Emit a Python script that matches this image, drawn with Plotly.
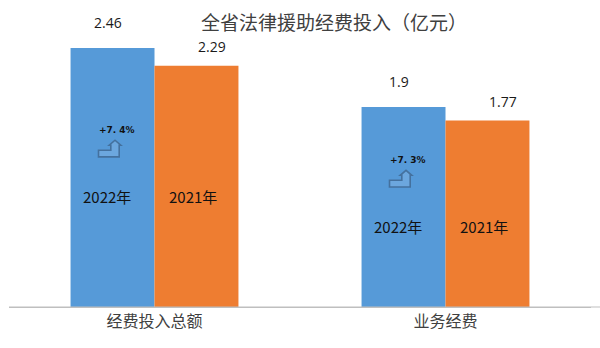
import plotly.graph_objects as go

# ---- data ----
categories = ["经费投入总额", "业务经费"]
values_2022 = [2.46, 1.9]
values_2021 = [2.29, 1.77]
series_names = ["2022年", "2021年"]
title_text = "全省法律援助经费投入（亿元）"

# ---- styles ----
blue = "#569ad8"
orange = "#ee7d31"
inner_label_frac = [0.425, 0.40]
FONT_CJK = "Noto Sans CJK SC"

fig = go.Figure()
fig.add_trace(go.Bar(x=categories, y=values_2022, name=series_names[0],
                     marker=dict(color=blue, line=dict(width=0))))
fig.add_trace(go.Bar(x=categories, y=values_2021, name=series_names[1],
                     marker=dict(color=orange, line=dict(width=0))))

ann = []
shapes = []
for i, cat in enumerate(categories):
    v22, v21 = values_2022[i], values_2021[i]
    # value labels
    ann.append(dict(x=i, y=v22, xref="x", yref="y", text=f"{v22:g}", showarrow=False,
                    xshift=-47, yshift=25, font=dict(family="Open Sans", size=14, color="#1a1a1a")))
    ann.append(dict(x=i, y=v21, xref="x", yref="y", text=f"{v21:g}", showarrow=False,
                    xshift=57, yshift=19, font=dict(family="Open Sans", size=14, color="#1a1a1a")))
    # inner series labels
    ly = v22 * inner_label_frac[i]
    ann.append(dict(x=i, y=ly, xref="x", yref="y", text=series_names[0], showarrow=False,
                    xshift=-48, font=dict(family=FONT_CJK, size=15, color="#111111")))
    ann.append(dict(x=i, y=ly, xref="x", yref="y", text=series_names[1], showarrow=False,
                    xshift=38, font=dict(family=FONT_CJK, size=15, color="#111111")))
    # growth percentage
    pct = (v22 - v21) / v21 * 100
    pct_txt = f"+{pct:.1f}%".replace(".", ". ")
    ann.append(dict(x=i, y=ly, xref="x", yref="y", text=f"<b>{pct_txt}</b>", showarrow=False,
                    xshift=-38, yshift=67, font=dict(family="DejaVu Sans", size=9, color="#111111")))
    # bent arrow (pixel path relative to label anchor)
    pts = [(0, 0), (20.7, 0), (20.7, 11.7), (22.3, 11.7), (16.5, 16.7), (10.7, 11.7),
           (12.3, 11.7), (12.3, 6.7), (0, 6.7)]
    ox, oy = -45 - 11, 40
    path = "M " + " L ".join(f"{px + ox:.1f},{py + oy:.1f}" for px, py in pts) + " Z"
    shapes.append(dict(type="path", xref="x", yref="y", xsizemode="pixel", ysizemode="pixel",
                       xanchor=i, yanchor=ly, path=path,
                       line=dict(color="#44719e", width=1.6), fillcolor="#6ca7de"))

ann.append(dict(x=(334 - 9) / 582, y=(307 - 21) / 307, xref="paper", yref="paper",
                text=title_text, showarrow=False, xanchor="center", yanchor="middle",
                font=dict(family=FONT_CJK, size=19, color="#404040")))

fig.update_layout(
    width=600, height=348,
    margin=dict(l=9, r=9, t=0, b=41),
    paper_bgcolor="white", plot_bgcolor="white",
    barmode="group", bargap=0.423, bargroupgap=0,
    showlegend=False,
    annotations=ann, shapes=shapes,
    xaxis=dict(showline=True, linecolor="#bfbfbf", linewidth=1, ticks="",
               tickfont=dict(family=FONT_CJK, size=16, color="#404040"),
               range=[-0.5, 1.5]),
    yaxis=dict(range=[0, 307 / 105.3], visible=False, showgrid=False, zeroline=False),
)
fig.add_shape(type="line", xref="paper", yref="paper", x0=0, x1=591 / 582, y0=0, y1=0,
              line=dict(color="#bfbfbf", width=1))

fig.write_html("out.html")
